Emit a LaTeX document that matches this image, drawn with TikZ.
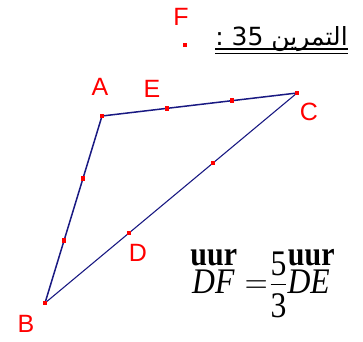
\RequirePackage{fix-cm}
\documentclass[tikz,border=0pt]{standalone}
\usepackage{amsmath}
\usepackage{graphicx}
\usepackage{fontspec}
\setmainfont{Liberation Serif}
\newfontfamily\lblfont{Liberation Sans}
\newfontfamily\arabicfont[Script=Arabic]{DejaVu Sans}
\TeXXeTstate=1
\definecolor{segblue}{RGB}{25,25,130}
% broken vector sign, as printed above the letters
\newcommand{\uvec}[2][3pt]{\text{\setbox0\hbox{\itshape #2}%
  \rlap{\hbox to\wd0{\hss\kern#1\raisebox{28pt}{\fontsize{34}{34}\selectfont\bfseries uur}\hss}}\box0}}

\begin{document}
\begin{tikzpicture}[x=1pt,y=-1pt,
    side/.style={segblue,line width=1.5pt},
    dot/.style={rectangle,fill=red,inner sep=0pt,minimum size=4.8pt},
    lbl/.style={red,font=\lblfont\fontsize{25}{25}\selectfont}]
  \useasboundingbox (0,0) rectangle (363,341);

  % vertices and the point F
  \coordinate (A) at (102,116);
  \coordinate (B) at (45,303);
  \coordinate (C) at (297,93);
  \coordinate (F) at (185,45);
  % points dividing the sides in three
  \path (A) -- (B) coordinate[pos=1/3] (ab1) coordinate[pos=2/3] (ab2);
  \path (A) -- (C) coordinate[pos=1/3] (E) coordinate[pos=2/3] (ac2);
  \path (B) -- (C) coordinate[pos=1/3] (D) coordinate[pos=2/3] (bc2);

  \draw[side] (A) -- (B);
  \draw[side] (A) -- (C);
  \draw[side,line width=1.1pt] (B) -- (C);

  \foreach \p in {A,B,C,D,E,F,ab1,ab2,ac2,bc2}
    \node[dot] (dot\p) at (\p) {};

  \node[lbl] (labA) at (100,87) {A};
  \node[lbl] (labE) at (152,89) {E};
  \node[lbl] (labC) at (309,112) {C};
  \node[lbl] (labB) at (26,324) {B};
  \node[lbl] (labD) at (138,253) {D};
  \node[lbl] (labF) at (181,17) {F};

  % title
  \node[anchor=base east,inner sep=0pt,font=\arabicfont\fontsize{25}{25}\selectfont]
    (title) at (348,45) {\beginR التمرين \beginL35\endL{} :\endR};
  \draw[line width=1.3pt] ([yshift=-4pt]title.base west) -- ([yshift=-4pt]title.base east);
  \draw[line width=1pt] ([yshift=-8pt]title.base west) -- ([yshift=-8pt]title.base east);

  % relation
  \node[anchor=base west,inner sep=0pt,font=\fontsize{36}{40}\selectfont] (rel) at (192,293)
    {\scalebox{0.88}[1]{$\uvec[1pt]{DF}\mkern6mu{=}\mkern1mu
      \dfrac{\raisebox{-7pt}{5}}{\text{3}}\uvec[6pt]{DE}$}};
\end{tikzpicture}
\end{document}
